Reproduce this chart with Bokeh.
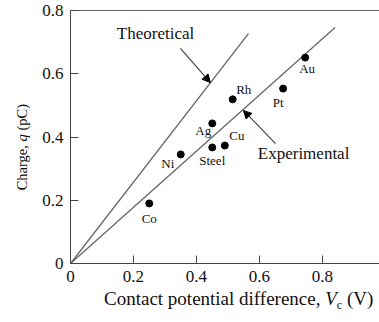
from bokeh.plotting import figure
from bokeh.models import Range1d, Label, Arrow, NormalHead, LinearAxis, FixedTicker, ColumnDataSource, Div
from bokeh.layouts import row, column
from bokeh.embed import file_html
from bokeh.resources import INLINE
from bokeh.core.properties import value

# ---- data ----
metals = ["Co", "Ni", "Steel", "Cu", "Ag", "Rh", "Pt", "Au"]
contact_v = [0.25, 0.35, 0.45, 0.49, 0.45, 0.515, 0.675, 0.745]
charge_q = [0.19, 0.345, 0.367, 0.373, 0.443, 0.519, 0.553, 0.651]
label_dx = [0, -13, 0, 12, -9, 11, -5, 2]
label_dy = [15, 9, 13, -10, 7, -10, 14, 11]

theory_v = [0.0, 0.565]
theory_q = [0.0, 0.727]
exp_v = [0.0, 0.84]
exp_q = [0.0, 0.746]

xticks = [0, 0.2, 0.4, 0.6, 0.8]
yticks = [0, 0.2, 0.4, 0.6, 0.8]
tick_labels = {0: "0", 0.2: "0.2", 0.4: "0.4", 0.6: "0.6", 0.8: "0.8"}

SERIF = "Liberation Serif"
INK = "#111111"
AXC = "#444444"

p = figure(width=344, height=286, output_backend="svg", toolbar_location=None,
           x_range=Range1d(0, 0.981), y_range=Range1d(0, 0.8),
           min_border_left=35, min_border_right=0, min_border_top=10, min_border_bottom=23)
p.outline_line_color = None
p.grid.grid_line_color = None
p.background_fill_color = "white"
p.border_fill_color = "white"

for ax, ticks in ((p.xaxis[0], xticks), (p.yaxis[0], yticks)):
    ax.ticker = FixedTicker(ticks=ticks)
    ax.major_label_overrides = tick_labels
    ax.major_tick_in = 8
    ax.major_tick_out = 0
    ax.minor_tick_in = 0
    ax.minor_tick_out = 0
    ax.axis_line_color = AXC
    ax.major_tick_line_color = AXC
    ax.major_label_text_font = SERIF
    ax.major_label_text_font_size = "17px"
    ax.major_label_text_color = INK
p.xaxis.major_label_standoff = 7
p.yaxis.major_label_standoff = 7

top = LinearAxis(ticker=FixedTicker(ticks=[]), major_label_text_font_size="0px",
                 major_tick_out=0, major_tick_in=0, minor_tick_out=0, minor_tick_in=0,
                 axis_line_color="#666666", major_label_standoff=0)
p.add_layout(top, "above")

src = ColumnDataSource(dict(v=contact_v, q=charge_q, name=metals, dx=label_dx, dy=label_dy))

p.line(theory_v, theory_q, line_color="#666666", line_width=1.3)
p.line(exp_v, exp_q, line_color="#666666", line_width=1.3)
p.scatter("v", "q", source=src, size=7, color="black")
p.text("v", "q", text="name", source=src, x_offset="dx", y_offset="dy",
       text_align="center", text_baseline="middle", text_font=value(SERIF),
       text_font_size="13px", text_color=INK)

p.add_layout(Label(x=0.27, y=0.727, text="Theoretical", text_font=SERIF, text_font_size="17px",
                   text_align="center", text_baseline="middle", text_color=INK))
p.add_layout(Label(x=0.74, y=0.348, text="Experimental", text_font=SERIF, text_font_size="17px",
                   text_align="center", text_baseline="middle", text_color=INK))

p.add_layout(Arrow(x_start=0.349, y_start=0.68, x_end=0.444, y_end=0.572,
                   line_color="#444444", line_width=1.2,
                   end=NormalHead(size=8, fill_color="black", line_color="black")))
p.add_layout(Arrow(x_start=0.651, y_start=0.379, x_end=0.549, y_end=0.484,
                   line_color="#444444", line_width=1.2,
                   end=NormalHead(size=8, fill_color="black", line_color="black")))

# axis titles with mixed styles as HTML text
ylabel_html = (
    '<div style="position:relative;width:35px;height:286px;">'
    '<div style="position:absolute;left:14px;top:104px;line-height:16px;'
    'writing-mode:vertical-rl;transform:rotate(180deg);white-space:nowrap;'
    "font-family:'Liberation Serif';font-size:14.5px;color:#111;\">"
    'Charge, <i>q</i> (pC)</div></div>'
)
xlabel_html = (
    '<div style="position:relative;width:379px;height:36px;">'
    '<div style="position:absolute;left:104px;top:3px;line-height:20px;white-space:nowrap;'
    "font-family:'Liberation Serif';font-size:19px;color:#111;\">"
    'Contact potential difference, <i>V</i><span style="font-size:12px;position:relative;top:4px;">c</span>'
    ' (V)</div></div>'
)
ydiv = Div(text=ylabel_html, width=35, height=286, margin=0)
xdiv = Div(text=xlabel_html, width=379, height=36, margin=0)

layout = column(row(ydiv, p, spacing=0), xdiv, spacing=0)

open("out.html", "w").write(file_html(layout, INLINE))
